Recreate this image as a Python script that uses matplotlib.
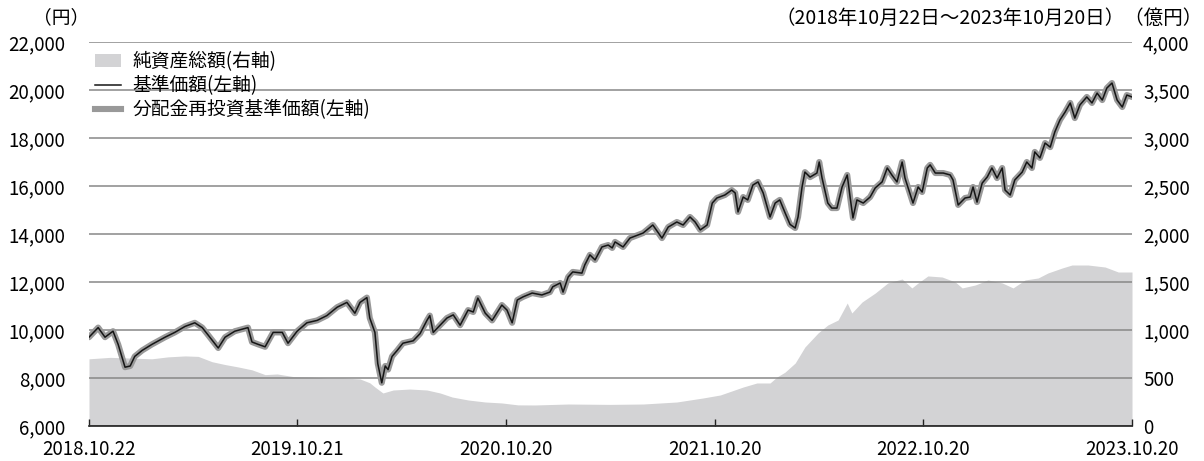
import matplotlib
matplotlib.use('Agg')
import matplotlib.pyplot as plt
from matplotlib.patches import Patch
from matplotlib.lines import Line2D
import pandas as pd

plt.rcParams['font.family'] = ['Noto Sans CJK JP', 'DejaVu Sans']

# 基準価額（円）
nav_dates = [
    '2018-10-22', '2018-11-07', '2018-11-19', '2018-12-03', '2018-12-12', '2018-12-24',
    '2019-01-02', '2019-01-10', '2019-01-23', '2019-02-09', '2019-03-04', '2019-03-21',
    '2019-04-08', '2019-04-25', '2019-05-08', '2019-05-18', '2019-06-05', '2019-06-17',
    '2019-07-04', '2019-07-27', '2019-08-03', '2019-08-14', '2019-08-26', '2019-09-09',
    '2019-09-25', '2019-10-05', '2019-10-21', '2019-11-07', '2019-11-25', '2019-12-12',
    '2019-12-30', '2020-01-16', '2020-01-30', '2020-02-08', '2020-02-20', '2020-02-25',
    '2020-03-05', '2020-03-10', '2020-03-17', '2020-03-23', '2020-03-28', '2020-04-04',
    '2020-04-13', '2020-04-23', '2020-05-11', '2020-05-23', '2020-06-04', '2020-06-09',
    '2020-06-15', '2020-06-27', '2020-07-09', '2020-07-20', '2020-08-01', '2020-08-15',
    '2020-08-24', '2020-09-01', '2020-09-14', '2020-09-26', '2020-10-13', '2020-10-22',
    '2020-10-31', '2020-11-09', '2020-11-19', '2020-12-05', '2020-12-22', '2021-01-05',
    '2021-01-10', '2021-01-23', '2021-01-28', '2021-02-06', '2021-02-14', '2021-03-02',
    '2021-03-07', '2021-03-16', '2021-03-25', '2021-04-06', '2021-04-17', '2021-04-24',
    '2021-04-29', '2021-05-13', '2021-05-25', '2021-06-17', '2021-07-04', '2021-07-20',
    '2021-07-31', '2021-08-15', '2021-08-26', '2021-09-07', '2021-09-16', '2021-09-25',
    '2021-10-07', '2021-10-16', '2021-10-24', '2021-11-07', '2021-11-19', '2021-11-25',
    '2021-11-30', '2021-12-09', '2021-12-17', '2021-12-26', '2022-01-04', '2022-01-13',
    '2022-01-25', '2022-02-03', '2022-02-11', '2022-02-20', '2022-03-01', '2022-03-10',
    '2022-03-15', '2022-03-22', '2022-03-27', '2022-04-05', '2022-04-17', '2022-04-21',
    '2022-04-26', '2022-05-06', '2022-05-13', '2022-05-22', '2022-05-31', '2022-06-09',
    '2022-06-14', '2022-06-19', '2022-06-26', '2022-07-07', '2022-07-19', '2022-07-28',
    '2022-08-09', '2022-08-18', '2022-08-26', '2022-09-04', '2022-09-13', '2022-09-18',
    '2022-10-02', '2022-10-11', '2022-10-18', '2022-10-27', '2022-11-01', '2022-11-10',
    '2022-11-24', '2022-12-06', '2022-12-11', '2022-12-20', '2023-01-01', '2023-01-10',
    '2023-01-15', '2023-01-22', '2023-01-31', '2023-02-09', '2023-02-17', '2023-02-26',
    '2023-03-07', '2023-03-12', '2023-03-21', '2023-03-29', '2023-04-11', '2023-04-19',
    '2023-04-28', '2023-05-03', '2023-05-12', '2023-05-21', '2023-05-30', '2023-06-07',
    '2023-06-16', '2023-06-25', '2023-07-04', '2023-07-12', '2023-07-21', '2023-08-02',
    '2023-08-11', '2023-08-20', '2023-08-29', '2023-09-06', '2023-09-15', '2023-09-24',
    '2023-10-03', '2023-10-11', '2023-10-20',
]
nav = [
    9700, 10100, 9700, 9950, 9400, 8450,
    8500, 8900, 9150, 9400, 9700, 9900,
    10150, 10300, 10100, 9800, 9250, 9700,
    9950, 10100, 9500, 9400, 9300, 9900,
    9900, 9450, 9950, 10300, 10400, 10600,
    10950, 11150, 10700, 11150, 11350, 10500,
    9900, 8600, 7800, 8500, 8350, 8900,
    9150, 9450, 9550, 9850, 10400, 10600,
    9900, 10200, 10500, 10630, 10200, 10830,
    10750, 11330, 10700, 10400, 11040, 10830,
    10300, 11250, 11380, 11540, 11460, 11580,
    11800, 11960, 11580, 12210, 12420, 12370,
    12710, 13130, 12920, 13460, 13540, 13420,
    13670, 13460, 13830, 14040, 14375, 13830,
    14290, 14500, 14375, 14710, 14500, 14170,
    14375, 15290, 15500, 15625, 15830, 15710,
    14920, 15540, 15420, 16040, 16170, 15710,
    14710, 15290, 15420, 14900, 14400, 14250,
    14710, 15960, 16580, 16370, 16540, 17000,
    16330, 15290, 15080, 15080, 15960, 16460,
    15540, 14670, 15420, 15290, 15540, 15920,
    16170, 16750, 16460, 16170, 17000, 16330,
    15290, 15960, 15750, 16750, 16880, 16540,
    16540, 16460, 16250, 15210, 15500, 15540,
    15960, 15330, 16120, 16380, 16750, 16330,
    16750, 15830, 15625, 16250, 16580, 17000,
    16750, 17420, 17170, 17790, 17620, 18250,
    18750, 19080, 19460, 18830, 19380, 19710,
    19460, 19870, 19580, 20080, 20290, 19580,
    19290, 19790, 19710,
]
# 分配金なしのため基準価額と同じ
reinvest_nav = list(nav)

# 純資産総額（億円）
asset_dates = [
    '2018-10-22', '2018-11-28', '2019-02-09', '2019-03-09', '2019-04-08', '2019-05-01',
    '2019-05-25', '2019-06-17', '2019-07-10', '2019-08-03', '2019-08-26', '2019-09-16',
    '2019-10-14', '2019-11-13', '2019-12-12', '2020-01-09', '2020-02-08', '2020-02-25',
    '2020-03-05', '2020-03-19', '2020-04-06', '2020-05-05', '2020-06-04', '2020-06-27',
    '2020-07-18', '2020-08-15', '2020-09-14', '2020-10-13', '2020-11-10', '2020-12-10',
    '2021-02-06', '2021-04-20', '2021-06-17', '2021-08-15', '2021-09-30', '2021-10-30',
    '2021-12-09', '2022-01-02', '2022-01-25', '2022-02-06', '2022-02-20', '2022-03-10',
    '2022-03-27', '2022-04-19', '2022-05-06', '2022-05-24', '2022-06-09', '2022-06-17',
    '2022-07-05', '2022-07-28', '2022-08-19', '2022-09-13', '2022-09-30', '2022-10-11',
    '2022-10-28', '2022-11-22', '2022-12-15', '2022-12-27', '2023-01-19', '2023-02-10',
    '2023-03-07', '2023-03-26', '2023-04-16', '2023-05-09', '2023-05-26', '2023-06-20',
    '2023-07-07', '2023-08-04', '2023-09-03', '2023-09-26', '2023-10-20',
]
assets = [
    700, 715, 700, 720, 730, 725,
    670, 640, 615, 585, 535, 542,
    515, 510, 500, 500, 490, 450,
    406, 344, 375, 385, 375, 344,
    302, 271, 250, 240, 220, 219,
    229, 225, 229, 250, 292, 323,
    406, 448, 448, 510, 560, 656,
    823, 969, 1052, 1104, 1281, 1177,
    1292, 1385, 1490, 1531, 1438, 1490,
    1563, 1552, 1500, 1438, 1469, 1521,
    1490, 1438, 1521, 1542, 1594, 1646,
    1677, 1677, 1656, 1604, 1604,
]

tick_dates = ['2018-10-22', '2019-10-21', '2020-10-20', '2021-10-20', '2022-10-20', '2023-10-20']
tick_labels = ['2018.10.22', '2019.10.21', '2020.10.20', '2021.10.20', '2022.10.20', '2023.10.20']

nd = pd.to_datetime(nav_dates)
ad = pd.to_datetime(asset_dates)
td = pd.to_datetime(tick_dates)

fig = plt.figure(figsize=(12.04, 4.61), dpi=100)
ax = fig.add_axes([89 / 1204, 1 - 426 / 461, 1043 / 1204, 384 / 461])
ax2 = ax.twinx()
ax.set_zorder(2)
ax.patch.set_visible(False)

area_color = '#d3d3d5'
ax2.fill_between(ad, assets, 0, color=area_color, lw=0)
ax2.set_ylim(0, 4000)
ax2.set_yticks(range(0, 4001, 500))
ax2.set_yticklabels([f'{v:,}' for v in range(0, 4001, 500)])

ax.plot(nd, reinvest_nav, color='#999999', lw=4.4, solid_joinstyle='round', solid_capstyle='round')
ax.plot(nd, nav, color='#151515', lw=1.1)
ax.set_ylim(6000, 22000)
ax.set_yticks(range(6000, 22001, 2000))
ax.set_yticklabels([f'{v:,}' for v in range(6000, 22001, 2000)])
ax.yaxis.grid(True, color='#888888', lw=1.1)

ax.set_xlim(td[0], td[-1])
ax.set_xticks(td)
ax.set_xticklabels(tick_labels)

for a in (ax, ax2):
    for s in ('left', 'right', 'top'):
        a.spines[s].set_visible(False)
ax2.spines['bottom'].set_visible(False)
ax.spines['bottom'].set_color('#222222')
ax.spines['bottom'].set_linewidth(1.2)

fs = 13.5
ax.tick_params(axis='y', length=0, pad=17, labelsize=fs)
ax2.tick_params(axis='y', length=0, pad=8, labelsize=fs)
ax.tick_params(axis='x', direction='in', length=5, width=1, pad=9, labelsize=fs, color='#222222')

handles = [
    Patch(facecolor=area_color, edgecolor='none'),
    Line2D([], [], color='#151515', lw=1.1),
    Line2D([], [], color='#999999', lw=4.4),
]
labels = ['純資産総額(右軸)', '基準価額(左軸)', '分配金再投資基準価額(左軸)']
ax.legend(handles, labels, loc='upper left', bbox_to_anchor=(0.0, 0.99), frameon=False,
          fontsize=fs, handlelength=1.4, handletextpad=0.6, labelspacing=0.15,
          borderaxespad=0.2, borderpad=0.1)

fig.text(61 / 1204, 1 - 18 / 461, '（円）', ha='center', va='center', fontsize=fs)
fig.text(1203 / 1204, 1 - 18 / 461, '（2018年10月22日～2023年10月20日）（億円）',
         ha='right', va='center', fontsize=14)

fig.savefig('out.png', dpi=100)
